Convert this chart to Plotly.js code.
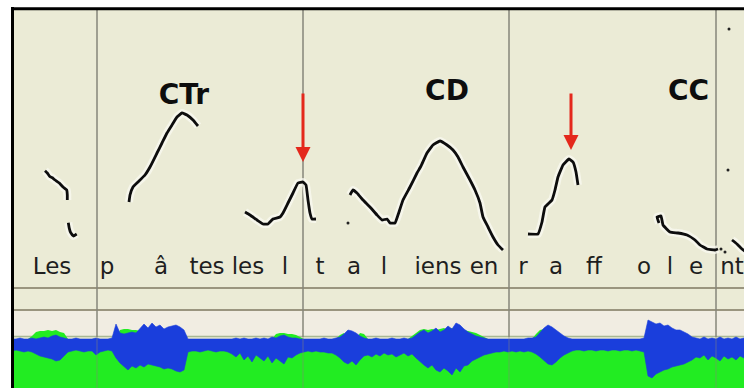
<!DOCTYPE html>
<html>
<head>
<meta charset="utf-8">
<script src="https://cdn.plot.ly/plotly-3.0.1.min.js"></script>
<style>html,body{margin:0;padding:0;background:#fff;}#chart{width:744px;height:388px;}</style>
</head>
<body>
<div id="chart"></div>
<script>
// ---- Pitch contour segments (time position, pitch position) ----
var les1X = [45, 47.3, 50, 52.7, 55, 59.3, 63.3, 66.7, 67.3, 67.3];
var les1Y = [170.7, 173, 176.7, 178, 180, 183, 187.3, 190, 195, 200];
var les2X = [68.3, 69.3, 70.7, 73.3, 76.7];
var les2Y = [222.7, 228.3, 232.7, 236, 234];
var ctrX = [129, 130, 133, 138, 145, 150, 157, 162, 167, 172, 177, 182, 187, 193, 198];
var ctrY = [202, 195, 187, 182, 175, 167, 153, 143, 133, 125, 117, 113, 115, 120, 126];
var lesLX = [245, 250, 257, 263, 268, 273, 280, 283, 288, 293, 298, 303, 306, 308, 310, 312, 316];
var lesLY = [212, 215, 220, 224, 224, 219, 217, 213, 203, 193, 183, 182, 185, 200, 213, 219, 219];
var cdX = [350, 353, 357, 363, 370, 377, 382, 387, 390, 395, 398, 403, 410, 417, 421, 427, 433, 440, 447, 453, 458, 463, 470, 475, 480, 483, 488, 493, 498, 503];
var cdY = [195, 190, 193, 200, 207, 215, 220, 219, 223, 223, 215, 200, 187, 173, 166, 153, 145, 141, 145, 150, 157, 167, 180, 190, 203, 217, 227, 237, 245, 250];
var raffX = [528, 538, 542, 545, 552, 555, 558, 563, 569, 573, 576, 578];
var raffY = [234, 234, 222, 207, 200, 190, 177, 165, 159, 162, 172, 185];
var ccX = [659, 657, 661, 663, 670, 678, 687, 695, 700, 707, 715, 718];
var ccY = [223, 217, 216, 225, 232, 233, 235, 240, 245, 249, 250, 249];
var ntX = [732, 737, 742, 746];
var ntY = [240, 244, 249, 252];
var strayX = [348, 728, 729, 721, 725];
var strayY = [223, 170, 29, 249, 252];

// ---- Interval boundaries ----
var boundaries = [97, 303, 509, 716];

// ---- Labels ----
var phraseLabels = ["CTr", "CD", "CC"];
var phraseX = [184, 447, 688.5];
var phraseY = [97, 93, 93];
var tierLabels = ["Les", "p", "â", "tes", "les", "l", "t", "a", "l", "iens", "en", "r", "a", "ff", "o", "l", "e", "nt"];
var tierX = [52, 107, 161, 207, 248, 285, 320, 354, 384, 438, 484, 523, 556, 594, 644, 670, 696, 732];

// ---- Peak arrows (tip / tail) ----
var arrowX = [303, 571];
var arrowTipY = [162, 150];
var arrowTailY = [92, 92];

// ---- Waveform envelopes ----
var waveX = [];
for (var k = 12; k <= 744; k += 4) waveX.push(k);
var blueTop = [
339,339,338,339,339,338,339,338,337,338,
336,335,337,338,339,339,338,339,339,339,
339,338,339,339,339,338,324,333,334,333,
332,333,329,324,328,323,327,325,329,327,
326,325,327,330,339,339,339,339,339,339,
339,339,339,339,339,339,338,339,338,339,
339,338,339,338,339,337,338,336,335,337,
338,338,339,339,339,339,339,339,338,339,
339,338,337,334,330,331,333,336,338,339,
339,338,339,339,339,338,339,339,338,339,
338,335,332,330,333,331,328,332,330,326,
329,323,325,329,332,334,336,337,338,339,
339,339,339,339,339,339,339,339,339,338,
338,337,332,328,325,327,330,333,336,338,
339,339,339,339,339,339,339,339,339,339,
339,339,339,339,339,339,339,339,338,320,
322,324,323,326,325,328,330,330,332,334,
337,338,339,337,339,338,339,337,339,338,
339,337,339,338];
var blueBottom = [
351,350,351,352,351,352,354,356,357,358,
359,361,360,356,352,351,350,351,352,351,
351,355,352,351,350,351,358,363,367,370,
366,368,365,367,364,365,366,367,369,368,
369,371,372,370,352,351,351,352,351,350,
351,352,351,351,352,354,357,353,360,356,
362,355,358,361,356,363,358,361,364,357,
358,355,353,352,351,352,351,352,352,353,
353,355,358,362,364,361,365,360,356,355,
357,354,356,353,355,354,357,355,353,356,
354,358,362,365,368,365,370,372,368,371,
375,368,372,366,365,361,359,357,355,354,
353,352,352,351,352,351,352,351,352,351,
352,354,357,361,364,365,362,358,355,353,
351,350,350,351,350,350,351,350,350,351,
350,350,351,350,350,351,350,351,352,376,
378,374,372,370,369,367,366,365,364,362,
360,357,358,355,360,356,358,361,356,359,
357,360,356,358];
var greenTop = [
339,339,339,339,339,336,332,331,331,330,
331,330,332,333,339,339,339,339,339,339,
339,339,339,339,339,339,339,330,329,329,
330,330,331,339,339,339,339,339,339,339,
339,339,339,339,339,339,339,339,339,339,
339,339,339,339,339,339,339,339,339,339,
339,339,339,339,339,339,334,333,333,334,
334,335,337,339,339,339,339,339,339,339,
339,339,335,333,339,339,339,333,334,339,
339,339,339,339,339,339,339,339,339,339,
336,333,330,329,330,329,330,329,328,330,
328,330,329,330,331,332,333,335,337,339,
339,339,339,339,339,339,339,339,339,339,
339,334,330,329,330,331,332,334,339,339,
339,339,339,339,339,339,339,339,339,339,
339,339,339,339,339,339,339,339,339,339,
339,339,339,339,339,339,339,339,339,339,
339,339,339,339,339,339,339,339,339,339,
339,339,339,339];

var traces = [];
// waveform: green
traces.push({x: [12, 744], y: [388, 388], mode: 'lines', line: {width: 0}, hoverinfo: 'skip', showlegend: false});
traces.push({x: waveX, y: greenTop, mode: 'lines', line: {width: 0, color: '#22ec22'}, fill: 'tonexty', fillcolor: '#22ec22', hoverinfo: 'skip', showlegend: false});
// waveform: blue
traces.push({x: waveX, y: blueBottom, mode: 'lines', line: {width: 0.6, color: '#1a3edc'}, hoverinfo: 'skip', showlegend: false});
traces.push({x: waveX, y: blueTop, mode: 'lines', line: {width: 0.6, color: '#1a3edc'}, fill: 'tonexty', fillcolor: '#1a3edc', hoverinfo: 'skip', showlegend: false});

// pitch segments
var segs = [[les1X, les1Y], [les2X, les2Y], [ctrX, ctrY], [lesLX, lesLY], [cdX, cdY], [raffX, raffY], [ccX, ccY], [ntX, ntY]];
segs.forEach(function (s) {
  traces.push({x: s[0], y: s[1], mode: 'lines', line: {width: 8, color: 'rgba(250,250,242,0.75)', shape: 'spline', smoothing: 0.3}, hoverinfo: 'skip', showlegend: false});
});
segs.forEach(function (s) {
  traces.push({x: s[0], y: s[1], mode: 'lines', line: {width: 2.8, color: '#0d0d0d', shape: 'spline', smoothing: 0.3}, hoverinfo: 'skip', showlegend: false});
});
traces.push({x: strayX, y: strayY, mode: 'markers', marker: {size: 3, color: '#222'}, hoverinfo: 'skip', showlegend: false});

// labels
traces.push({x: phraseX, y: phraseY, mode: 'text', text: phraseLabels, textposition: 'middle center',
  textfont: {family: 'DejaVu Sans, Arial, sans-serif', size: 28, color: '#0d0d0d', weight: 'bold'}, hoverinfo: 'skip', showlegend: false});
traces.push({x: tierX, y: tierX.map(function () { return 268; }), mode: 'text', text: tierLabels, textposition: 'middle center',
  textfont: {family: 'DejaVu Sans, Arial, sans-serif', size: 23, color: '#1e1e1e'}, hoverinfo: 'skip', showlegend: false, cliponaxis: true});

var shapes = [
  {type: 'rect', xref: 'x', yref: 'y', x0: 13, x1: 744, y0: 10, y1: 388, fillcolor: '#ebebd6', line: {width: 0}, layer: 'below'},
  {type: 'rect', xref: 'x', yref: 'y', x0: 13, x1: 744, y0: 311, y1: 337, fillcolor: '#f1ede2', line: {width: 0}, layer: 'below'},
  {type: 'line', xref: 'x', yref: 'y', x0: 13, x1: 744, y0: 288, y1: 288, line: {color: '#9a957f', width: 2}, layer: 'below'},
  {type: 'line', xref: 'x', yref: 'y', x0: 13, x1: 744, y0: 310, y1: 310, line: {color: '#9a957f', width: 2}, layer: 'below'},
  {type: 'line', xref: 'x', yref: 'y', x0: 13, x1: 744, y0: 336.5, y1: 336.5, line: {color: '#a9b894', width: 1.5}, layer: 'below'}
];
boundaries.forEach(function (b) {
  shapes.push({type: 'line', xref: 'x', yref: 'y', x0: b, x1: b, y0: 10, y1: 337, line: {color: '#86867a', width: 1.5}, layer: 'below'});
  shapes.push({type: 'line', xref: 'x', yref: 'y', x0: b, x1: b, y0: 337, y1: 388, line: {color: '#86867a', width: 1.5}, opacity: 0.35, layer: 'above'});
});
shapes.push({type: 'line', xref: 'x', yref: 'y', x0: 12.5, x1: 12.5, y0: 7, y1: 388, line: {color: '#000', width: 3}, layer: 'above'});
shapes.push({type: 'line', xref: 'x', yref: 'y', x0: 11, x1: 744, y0: 8.7, y1: 8.7, line: {color: '#000', width: 3}, layer: 'above'});

var annotations = arrowX.map(function (ax, i) {
  return {x: ax, y: arrowTipY[i], ax: ax, ay: arrowTailY[i], xref: 'x', yref: 'y', axref: 'x', ayref: 'y',
    text: '', showarrow: true, arrowhead: 2, arrowsize: 1, arrowwidth: 3, arrowcolor: '#e4281c', standoff: 0};
});

var layout = {
  width: 744, height: 388, autosize: false,
  margin: {l: 0, r: 0, t: 0, b: 0, pad: 0},
  paper_bgcolor: '#ffffff', plot_bgcolor: '#ffffff',
  xaxis: {range: [0, 744], visible: false, fixedrange: true},
  yaxis: {range: [388, 0], visible: false, fixedrange: true},
  shapes: shapes, annotations: annotations, showlegend: false
};
Plotly.newPlot('chart', traces, layout, {staticPlot: true, displayModeBar: false});
</script>
</body>
</html>
